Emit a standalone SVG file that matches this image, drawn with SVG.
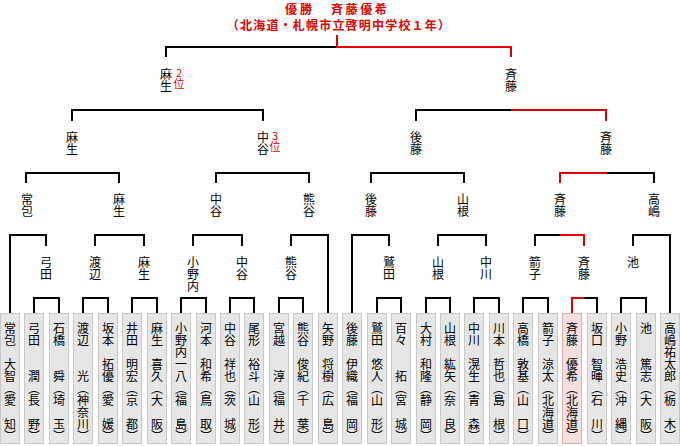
<svg xmlns="http://www.w3.org/2000/svg" width="680" height="446" viewBox="0 0 680 446">
<style>
.bg{fill:#fff}
.ln{stroke:#000;stroke-width:2;fill:none}
.rd{stroke:#e00000;stroke-width:2;fill:none}
.box{fill:#e6e6e6;stroke:#c8c8c8;stroke-width:1}
.win{fill:#f6dede;stroke:#d9b4b4;stroke-width:1}
.v{font-family:"Noto Sans CJK JP","Noto Sans CJK SC",sans-serif;font-size:12px;writing-mode:vertical-rl;fill:#000}
.t{font-family:"Noto Sans CJK JP","Noto Sans CJK SC",sans-serif;font-size:12px;font-weight:bold;fill:#e00000}
.rk{font-family:"Noto Sans CJK JP","Noto Sans CJK SC",sans-serif;font-size:11px;fill:#e00000;writing-mode:vertical-rl;text-orientation:upright}
</style>
<rect class="bg" x="0" y="0" width="680" height="446"/>
<g id="title">
<text class="t" x="285" y="13.5">優</text>
<text class="t" x="300" y="13.5">勝</text>
<text class="t" x="331" y="13.5" font-size="13.5" letter-spacing="2.6">斉藤優希</text>
<text class="t" x="339" y="30" text-anchor="middle" letter-spacing="1.2">（北海道・札幌市立啓明中学校１年）</text>
</g>
<g id="connectors">
<path class="ln" d="M166 57V47H337"/>
<path class="rd" d="M337 35V47H511V57"/>
<path class="ln" d="M72 121V110H263V121"/>
<path class="ln" d="M416 121V110H511"/>
<path class="rd" d="M511 110H606V121"/>
<path class="ln" d="M26 183V173H119V183"/>
<path class="ln" d="M216 183V173H309V183"/>
<path class="ln" d="M371 183V173H464V183"/>
<path class="rd" d="M560 183V173H607"/>
<path class="ln" d="M607 173H654V183"/>
<path class="ln" d="M10 313V235H46V246"/>
<path class="ln" d="M95 246V235H144V246"/>
<path class="ln" d="M193 246V235H242V246"/>
<path class="ln" d="M291 246V235H328V313"/>
<path class="ln" d="M352 313V235H389V246"/>
<path class="ln" d="M438 246V235H486V246"/>
<path class="ln" d="M535 246V235H560"/>
<path class="rd" d="M560 235H584V246"/>
<path class="ln" d="M633 246V235H670V313"/>
<path class="ln" d="M34 313V298H59V313"/>
<path class="ln" d="M83 313V298H108V313"/>
<path class="ln" d="M132 313V298H157V313"/>
<path class="ln" d="M181 313V298H206V313"/>
<path class="ln" d="M230 313V298H254V313"/>
<path class="ln" d="M279 313V298H303V313"/>
<path class="ln" d="M377 313V298H401V313"/>
<path class="ln" d="M426 313V298H450V313"/>
<path class="ln" d="M474 313V298H499V313"/>
<path class="ln" d="M523 313V298H548V313"/>
<path class="rd" d="M572 313V298H584"/>
<path class="ln" d="M584 298H597V313"/>
<path class="ln" d="M621 313V298H646V313"/>
</g>
<g id="r1-aso"><text class="v" x="166" y="68">麻生</text><text class="rk" x="179" y="67">2位</text></g>
<g id="r1-saito"><text class="v" x="511" y="68">斉藤</text></g>
<g id="r2-aso"><text class="v" x="72" y="131">麻生</text></g>
<g id="r2-nakaya"><text class="v" x="263" y="131">中谷</text><text class="rk" x="275" y="130">3位</text></g>
<g id="r2-goto"><text class="v" x="416" y="131">後藤</text></g>
<g id="r2-saito"><text class="v" x="606" y="131">斉藤</text></g>
<g id="r3-tsunekane"><text class="v" x="27" y="193">常包</text></g>
<g id="r3-aso"><text class="v" x="119" y="193">麻生</text></g>
<g id="r3-nakaya"><text class="v" x="216" y="193">中谷</text></g>
<g id="r3-kumagai"><text class="v" x="309" y="193">熊谷</text></g>
<g id="r3-goto"><text class="v" x="371" y="193">後藤</text></g>
<g id="r3-yamane"><text class="v" x="463" y="193">山根</text></g>
<g id="r3-saito"><text class="v" x="560" y="193">斉藤</text></g>
<g id="r3-takashima"><text class="v" x="654" y="193">高嶋</text></g>
<g id="r4-yumita"><text class="v" x="46" y="256">弓田</text></g>
<g id="r4-watanabe"><text class="v" x="95" y="256">渡辺</text></g>
<g id="r4-aso"><text class="v" x="144" y="256">麻生</text></g>
<g id="r4-onouchi"><text class="v" x="193" y="256">小野内</text></g>
<g id="r4-nakaya"><text class="v" x="242" y="256">中谷</text></g>
<g id="r4-kumagai"><text class="v" x="291" y="256">熊谷</text></g>
<g id="r4-washida"><text class="v" x="389" y="256">鷲田</text></g>
<g id="r4-yamane"><text class="v" x="438" y="256">山根</text></g>
<g id="r4-nakagawa"><text class="v" x="486" y="256">中川</text></g>
<g id="r4-yako"><text class="v" x="535" y="256">箭子</text></g>
<g id="r4-saito"><text class="v" x="584" y="256">斉藤</text></g>
<g id="r4-ike"><text class="v" x="633" y="256">池</text></g>
<g id="p0"><rect class="box" x="0.5" y="313.5" width="19" height="130"/><text class="v" x="10" y="322">常包　大智（愛　知）</text></g>
<g id="p1"><rect class="box" x="24.5" y="313.5" width="19" height="130"/><text class="v" x="34" y="322">弓田　　潤（長　野）</text></g>
<g id="p2"><rect class="box" x="49.5" y="313.5" width="19" height="130"/><text class="v" x="59" y="322">石橋　　舜（埼　玉）</text></g>
<g id="p3"><rect class="box" x="73.5" y="313.5" width="19" height="130"/><text class="v" x="83" y="322">渡辺　　光（神奈川）</text></g>
<g id="p4"><rect class="box" x="98.5" y="313.5" width="19" height="130"/><text class="v" x="108" y="322">坂本　拓優（愛　媛）</text></g>
<g id="p5"><rect class="box" x="122.5" y="313.5" width="19" height="130"/><text class="v" x="132" y="322">井田　明宏（京　都）</text></g>
<g id="p6"><rect class="box" x="147.5" y="313.5" width="19" height="130"/><text class="v" x="157" y="322">麻生　喜久（大　阪）</text></g>
<g id="p7"><rect class="box" x="171.5" y="313.5" width="19" height="130"/><text class="v" x="181" y="322">小野内一八（福　島）</text></g>
<g id="p8"><rect class="box" x="196.5" y="313.5" width="19" height="130"/><text class="v" x="206" y="322">河本　和希（鳥　取）</text></g>
<g id="p9"><rect class="box" x="220.5" y="313.5" width="19" height="130"/><text class="v" x="230" y="322">中谷　祥也（茨　城）</text></g>
<g id="p10"><rect class="box" x="244.5" y="313.5" width="19" height="130"/><text class="v" x="254" y="322">尾形　裕斗（山　形）</text></g>
<g id="p11"><rect class="box" x="269.5" y="313.5" width="19" height="130"/><text class="v" x="279" y="322">宮越　　淳（福　井）</text></g>
<g id="p12"><rect class="box" x="293.5" y="313.5" width="19" height="130"/><text class="v" x="303" y="322">熊谷　俊紀（千　葉）</text></g>
<g id="p13"><rect class="box" x="318.5" y="313.5" width="19" height="130"/><text class="v" x="328" y="322">矢野　将樹（広　島）</text></g>
<g id="p14"><rect class="box" x="342.5" y="313.5" width="19" height="130"/><text class="v" x="352" y="322">後藤　伊織（福　岡）</text></g>
<g id="p15"><rect class="box" x="367.5" y="313.5" width="19" height="130"/><text class="v" x="377" y="322">鷲田　悠人（山　形）</text></g>
<g id="p16"><rect class="box" x="391.5" y="313.5" width="19" height="130"/><text class="v" x="401" y="322">百々　　拓（宮　城）</text></g>
<g id="p17"><rect class="box" x="416.5" y="313.5" width="19" height="130"/><text class="v" x="426" y="322">大村　和隆（静　岡）</text></g>
<g id="p18"><rect class="box" x="440.5" y="313.5" width="19" height="130"/><text class="v" x="450" y="322">山根　紘矢（奈　良）</text></g>
<g id="p19"><rect class="box" x="464.5" y="313.5" width="19" height="130"/><text class="v" x="474" y="322">中川　滉生（青　森）</text></g>
<g id="p20"><rect class="box" x="489.5" y="313.5" width="19" height="130"/><text class="v" x="499" y="322">川本　哲也（島　根）</text></g>
<g id="p21"><rect class="box" x="513.5" y="313.5" width="19" height="130"/><text class="v" x="523" y="322">高橋　敦基（山　口）</text></g>
<g id="p22"><rect class="box" x="538.5" y="313.5" width="19" height="130"/><text class="v" x="548" y="322">箭子　涼太（北海道）</text></g>
<g id="p23"><rect class="win" x="562.5" y="313.5" width="19" height="130"/><text class="v" x="572" y="322">斉藤　優希（北海道）</text></g>
<g id="p24"><rect class="box" x="587.5" y="313.5" width="19" height="130"/><text class="v" x="597" y="322">坂口　智暉（石　川）</text></g>
<g id="p25"><rect class="box" x="611.5" y="313.5" width="19" height="130"/><text class="v" x="621" y="322">小野　浩史（沖　縄）</text></g>
<g id="p26"><rect class="box" x="636.5" y="313.5" width="19" height="130"/><text class="v" x="646" y="322">池　　篤志（大　阪）</text></g>
<g id="p27"><rect class="box" x="660.5" y="313.5" width="19" height="130"/><text class="v" x="670" y="322">高嶋祐太郎（栃　木）</text></g>
</svg>
